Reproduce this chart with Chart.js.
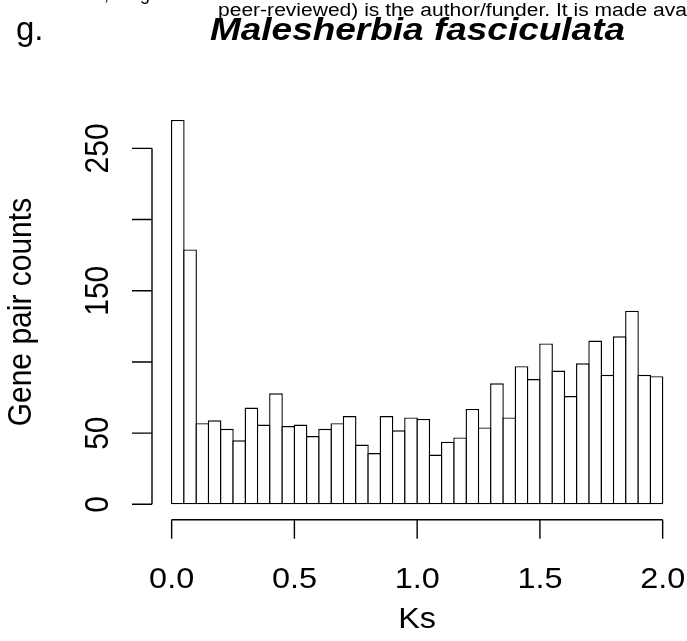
<!DOCTYPE html>
<html>
<head>
<meta charset="utf-8">
<script src="https://cdn.jsdelivr.net/npm/chart.js@4/dist/chart.umd.min.js"></script>
<style>
  html, body { margin: 0; padding: 0; background: #fff; }
  #wrap { width: 687px; height: 641px; }
</style>
</head>
<body>
<div id="wrap"><canvas id="chart_area" width="687" height="641"></canvas></div>
<script>
// bin centres (Ks, width 0.05) and counts
const ksMid = [0.025, 0.075, 0.125, 0.175, 0.225, 0.275, 0.325, 0.375, 0.425, 0.475,
               0.525, 0.575, 0.625, 0.675, 0.725, 0.775, 0.825, 0.875, 0.925, 0.975,
               1.025, 1.075, 1.125, 1.175, 1.225, 1.275, 1.325, 1.375, 1.425, 1.475,
               1.525, 1.575, 1.625, 1.675, 1.725, 1.775, 1.825, 1.875, 1.925, 1.975];
const counts = [270, 179, 57, 59, 53, 45, 68, 56, 78, 55,
                56, 48, 53, 57, 62, 42, 36, 62, 52, 61,
                60, 35, 44, 47, 67, 54, 85, 61, 97, 88,
                113, 94, 76, 99, 115, 91, 118, 136, 91, 90];
const xTicks = [0, 0.5, 1, 1.5, 2];
const xTickLabels = ['0.0', '0.5', '1.0', '1.5', '2.0'];
const yTicks = [0, 50, 100, 150, 200, 250];
const yTickLabels = ['0', '50', '', '150', '', '250']; // R drops the ones that would overlap

const FONT = '"Liberation Sans", Arial, Helvetica, sans-serif';
const SX = 1.08; // text in the picture is a little wide

// R style range: 4% padding on each side
const ymax = Math.max(...counts);
const ctx = document.getElementById('chart_area').getContext('2d');

function drawText(c, text, x, y, font, align, sx, rot) {
  c.save();
  c.font = font;
  c.textAlign = align;
  c.textBaseline = 'alphabetic';
  c.translate(x, y);
  c.scale(sx, 1);
  if (rot) c.rotate(rot);
  c.fillText(text, 0, 0);
  c.restore();
}

function fitScale(c, text, font, width) {
  c.save();
  c.font = font;
  const w = c.measureText(text).width;
  c.restore();
  return width / w;
}

const rAxes = {
  id: 'rAxes',
  afterDraw(chart) {
    const c = chart.ctx;
    const xs = chart.scales.x;
    const ys = chart.scales.y;
    const area = chart.chartArea;
    c.save();
    c.strokeStyle = '#000';
    c.fillStyle = '#000';
    c.lineWidth = 1.4;

    // x axis
    const ay = area.bottom;
    c.beginPath();
    c.moveTo(xs.getPixelForValue(xTicks[0]), ay);
    c.lineTo(xs.getPixelForValue(xTicks[xTicks.length - 1]), ay);
    xTicks.forEach(function (t) {
      const px = xs.getPixelForValue(t);
      c.moveTo(px, ay);
      c.lineTo(px, ay + 19);
    });
    c.stroke();
    xTicks.forEach(function (t, i) {
      drawText(c, xTickLabels[i], xs.getPixelForValue(t), ay + 68, '30px ' + FONT, 'center', SX, 0);
    });

    // y axis
    const ax = area.left;
    c.beginPath();
    c.moveTo(ax, ys.getPixelForValue(yTicks[0]));
    c.lineTo(ax, ys.getPixelForValue(yTicks[yTicks.length - 1]));
    yTicks.forEach(function (t) {
      const py = ys.getPixelForValue(t);
      c.moveTo(ax, py);
      c.lineTo(ax - 20, py);
    });
    c.stroke();
    yTicks.forEach(function (t, i) {
      if (yTickLabels[i] === '') return;
      drawText(c, yTickLabels[i], ax - 44, ys.getPixelForValue(t), '30px ' + FONT, 'center', SX, -Math.PI / 2);
    });

    // axis titles
    const midX = (area.left + area.right) / 2;
    const midY = (area.top + area.bottom) / 2;
    drawText(c, 'Ks', midX, 628, '30px ' + FONT, 'center', SX, 0);
    drawText(c, 'Gene pair counts', 31, midY, '30px ' + FONT, 'center', SX, -Math.PI / 2);

    // title, panel letter and the clipped header of the page
    const tFont = 'bold italic 32px ' + FONT;
    drawText(c, 'Malesherbia fasciculata', 417.5, 39.5, tFont, 'center',
      fitScale(c, 'Malesherbia fasciculata', tFont, 415), 0);
    drawText(c, 'g.', 16, 39.5, '33px ' + FONT, 'left', 1.0, 0);
    const hFont = '18px ' + FONT;
    drawText(c, 'peer-reviewed) is the author/funder. It is made available under a', 218, 16, hFont, 'left',
      fitScale(c, 'peer-reviewed) is the author/funder. It is made ava', hFont, 469), 0);
    drawText(c, ',', 104, 0, hFont, 'left', 1.0, 0);
    drawText(c, 'g', 140, 0, hFont, 'left', 1.0, 0);
    c.restore();
  }
};

let chart = new Chart(ctx, {
  type: 'bar',
  data: {
    datasets: [{
      data: ksMid.map((k, i) => ({ x: k, y: counts[i] })),
      backgroundColor: '#ffffff',
      borderColor: '#000000',
      borderWidth: 1.4,
      borderSkipped: false,
      inflateAmount: 0,
      categoryPercentage: 1,
      barPercentage: 1.114 // overlap neighbours so shared edges stay one line
    }]
  },
  options: {
    responsive: false,
    animation: false,
    devicePixelRatio: 1,
    layout: {
      padding: { left: 152, right: 4.7, top: 104.5, bottom: 121.3 }
    },
    scales: {
      x: { type: 'linear', offset: false, min: -0.08, max: 2.08, display: false },
      y: { min: -0.04 * ymax, max: 1.04 * ymax, display: false }
    },
    plugins: {
      legend: { display: false },
      tooltip: { enabled: false }
    }
  },
  plugins: [rAxes]
});
</script>
</body>
</html>
